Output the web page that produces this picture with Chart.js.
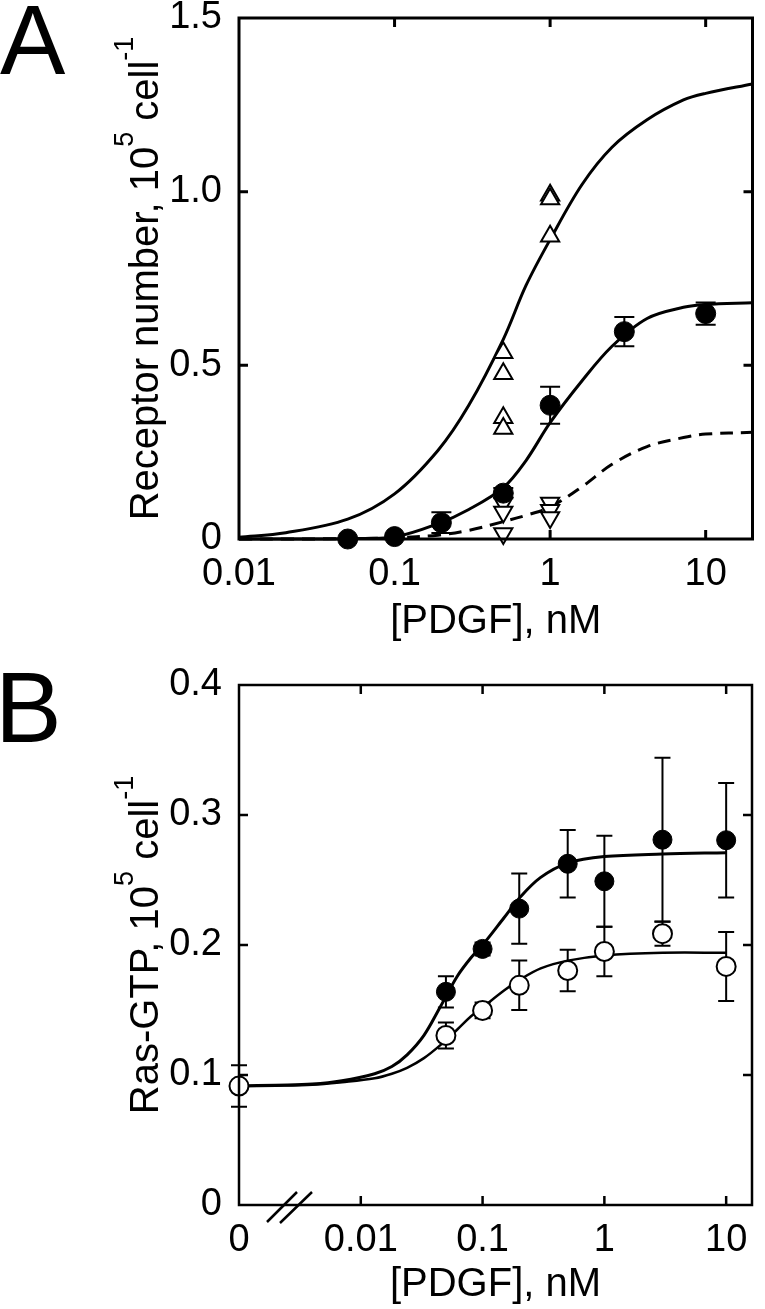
<!DOCTYPE html>
<html>
<head>
<meta charset="utf-8">
<script src="https://cdn.jsdelivr.net/npm/chart.js@4.4.0/dist/chart.umd.min.js"></script>
<style>
  body { margin: 0; background: #fff; width: 765px; height: 1309px; overflow: hidden; position: relative; }
  canvas { position: absolute; left: 0; }
  #chartA { top: 0; }
  #chartB { top: 640px; }
</style>
</head>
<body>
<canvas id="chartA" width="765" height="650"></canvas>
<canvas id="chartB" width="765" height="669"></canvas>
<script>
// ---- Panel A: receptor number vs [PDGF] ----
const aConc = [0.05, 0.1, 0.2, 0.5, 1, 3, 10];
const aFilled = [0, 0.007, 0.047, 0.132, 0.385, 0.597, 0.649];
const aFilledErr = [0, 0, 0.03, 0.015, 0.053, 0.042, 0.032];
const aUpConc = [0.5, 0.5, 0.5, 0.5, 1, 1, 1];
const aUpVals = [0.536, 0.476, 0.349, 0.318, 0.99, 0.979, 0.872];
const aDownConc = [0.5, 0.5, 0.5, 1, 1, 1];
const aDownVals = [0.104, 0.078, 0.016, 0.104, 0.083, 0.062];
const aFitConc = [0.01, 0.02, 0.05, 0.1, 0.19, 0.3, 0.5, 0.7, 1, 1.6, 2.5, 4.2, 7.2, 10, 20];
const aFitUpper = [0.005, 0.018, 0.057, 0.13, 0.255, 0.385, 0.575, 0.73, 0.862, 1.02, 1.128, 1.207, 1.264, 1.283, 1.31];
const aFitMiddle = [0, 0, 0.001, 0.006, 0.044, 0.085, 0.148, 0.226, 0.335, 0.455, 0.555, 0.635, 0.667, 0.675, 0.68];
const aFitDashed = [0, 0, 0.001, 0.004, 0.011, 0.025, 0.05, 0.068, 0.092, 0.15, 0.215, 0.266, 0.292, 0.302, 0.307];
const aXTicks = [0.01, 0.1, 1, 10];

// ---- Panel B: Ras-GTP vs [PDGF] ----
const bZero = 0.001; // where "0" sits on the broken log axis
const bFilledConc = [0.05, 0.1, 0.2, 0.5, 1, 3, 10];
const bFilled = [0.164, 0.197, 0.228, 0.2625, 0.249, 0.281, 0.2806];
const bFilledErr = [0.012, 0.005, 0.027, 0.026, 0.035, 0.063, 0.044];
const bOpenConc = [0, 0.05, 0.1, 0.2, 0.5, 1, 3, 10];
const bOpen = [0.0915, 0.1304, 0.1497, 0.169, 0.1804, 0.195, 0.2087, 0.1835];
const bOpenErr = [0.016, 0.01, 0.006, 0.019, 0.016, 0.019, 0.0092, 0.0265];
const bFitConc = [0, 0.002, 0.004, 0.007, 0.013, 0.018, 0.024, 0.033, 0.045, 0.062, 0.08, 0.1, 0.15, 0.2, 0.3, 0.5, 1, 3, 10];
const bFitFilled = [0.0915, 0.0922, 0.093, 0.0955, 0.101, 0.1065, 0.1155, 0.1305, 0.1525, 0.176, 0.19, 0.2, 0.221, 0.236, 0.252, 0.263, 0.268, 0.27, 0.271];
const bFitOpen = [0.0915, 0.0918, 0.0925, 0.0945, 0.0975, 0.101, 0.1055, 0.113, 0.123, 0.135, 0.145, 0.152, 0.165, 0.173, 0.182, 0.188, 0.192, 0.194, 0.194];
const bXTicks = [0.01, 0.1, 1, 10];

const FONT = '"Liberation Sans", Arial, Helvetica, sans-serif';
Chart.defaults.font.family = FONT;
Chart.defaults.color = '#000';

const pts = (xs, ys, zero) => xs.map((x, i) => ({ x: x === 0 ? zero : x, y: ys[i] }));

// frame, inward ticks, error bars, y title with superscripts, panel letter
const figurePlugin = {
  id: 'figure',
  beforeDatasetsDraw(chart, args, o) {
    const ctx = chart.ctx, xs = chart.scales.x, ys = chart.scales.y;
    ctx.save();
    ctx.strokeStyle = '#000';
    ctx.lineWidth = o.errWidth;
    chart.data.datasets.forEach(ds => {
      if (!ds.errs) return;
      ds.data.forEach((p, i) => {
        const e = ds.errs[i];
        if (!e) return;
        const px = xs.getPixelForValue(p.x);
        const top = ys.getPixelForValue(p.y + e);
        const bot = ys.getPixelForValue(p.y - e);
        ctx.beginPath();
        ctx.moveTo(px, top); ctx.lineTo(px, bot);
        ctx.moveTo(px - o.cap, top); ctx.lineTo(px + o.cap, top);
        ctx.moveTo(px - o.cap, bot); ctx.lineTo(px + o.cap, bot);
        ctx.stroke();
      });
    });
    ctx.restore();
  },
  afterDraw(chart, args, o) {
    const ctx = chart.ctx, a = chart.chartArea, xs = chart.scales.x, ys = chart.scales.y;
    ctx.save();
    ctx.strokeStyle = '#000';
    ctx.fillStyle = '#000';
    ctx.lineWidth = o.frameWidth;
    ctx.strokeRect(a.left, a.top, a.right - a.left, a.bottom - a.top);

    const tl = o.tickLen;
    ctx.beginPath();
    o.xTicks.forEach(v => {
      const px = xs.getPixelForValue(v);
      ctx.moveTo(px, a.bottom); ctx.lineTo(px, a.bottom - tl);
      ctx.moveTo(px, a.top); ctx.lineTo(px, a.top + tl);
    });
    o.yTicks.forEach(v => {
      const py = ys.getPixelForValue(v);
      ctx.moveTo(a.left, py); ctx.lineTo(a.left + tl, py);
      ctx.moveTo(a.right, py); ctx.lineTo(a.right - tl, py);
    });
    ctx.stroke();

    if (o.breakMarks) {
      ctx.lineWidth = 2.5;
      ctx.beginPath();
      o.breakMarks.forEach(m => { ctx.moveTo(m[0], m[1]); ctx.lineTo(m[2], m[3]); });
      ctx.stroke();
    }

    // y-axis title, rotated, with superscripts
    const big = '40px ' + FONT, small = '27px ' + FONT;
    let total = 0;
    o.yTitle.forEach(r => { ctx.font = r.sup ? small : big; r.w = ctx.measureText(r.t).width; total += r.w; });
    ctx.translate(o.yTitleX, (a.top + a.bottom) / 2);
    ctx.rotate(-Math.PI / 2);
    ctx.textBaseline = 'alphabetic';
    ctx.textAlign = 'left';
    let x = -total / 2;
    o.yTitle.forEach(r => {
      ctx.font = r.sup ? small : big;
      ctx.fillText(r.t, x, r.sup ? -25 : 0);
      x += r.w;
    });
    ctx.setTransform(1, 0, 0, 1, 0, 0);

    ctx.font = o.letterSize + 'px ' + FONT;
    ctx.fillText(o.letter, o.letterX, o.letterY);
    ctx.restore();
  }
};

function xScale(min, max, ticks, height, titlePad) {
  return {
    type: 'logarithmic', min: min, max: max,
    grid: { display: false }, border: { display: false },
    afterBuildTicks: s => { s.ticks = ticks.map(v => ({ value: v })); },
    afterFit: s => { s.height = height; s.paddingLeft = 0; s.paddingRight = 0; },
    ticks: {
      autoSkip: false, maxRotation: 0, padding: 5,
      font: { size: 38 },
      callback: v => (v === bZero ? '0' : String(v))
    },
    title: { display: true, text: '[PDGF], nM', font: { size: 40 }, padding: { top: 0, bottom: titlePad } }
  };
}

function yScale(max, step) {
  return {
    min: 0, max: max,
    grid: { display: false }, border: { display: false },
    afterFit: s => { s.width = 239; s.paddingTop = 0; s.paddingBottom = 0; },
    ticks: {
      stepSize: step, padding: 9, font: { size: 38 },
      callback: v => (v === 0 ? '0' : v.toFixed(1))
    }
  };
}

const baseOpts = {
  responsive: false, animation: false,
  plugins: { legend: { display: false }, tooltip: { enabled: false } }
};

const curve = (data, width, dash) => ({
  data: data, showLine: true, pointRadius: 0, borderColor: '#000', borderWidth: width,
  borderDash: dash || [], tension: 0.35, clip: false
});

// ---- Chart A ----
new Chart(document.getElementById('chartA'), {
  type: 'scatter',
  data: {
    datasets: [
      { data: pts(aConc, aFilled), errs: aFilledErr, pointRadius: 10, pointBackgroundColor: '#000', pointBorderColor: '#000', clip: false },
      { data: pts(aUpConc, aUpVals), pointStyle: 'triangle', pointRadius: 10.5, pointBackgroundColor: '#fff', pointBorderColor: '#000', pointBorderWidth: 2, clip: false },
      { data: pts(aDownConc, aDownVals), pointStyle: 'triangle', rotation: 180, pointRadius: 10.5, pointBackgroundColor: '#fff', pointBorderColor: '#000', pointBorderWidth: 2, clip: false },
      curve(pts(aFitConc, aFitUpper), 3),
      curve(pts(aFitConc, aFitMiddle), 3),
      curve(pts(aFitConc, aFitDashed), 3, [13, 8])
    ]
  },
  options: {
    ...baseOpts,
    layout: { padding: { top: 18, right: 7, left: 0, bottom: 0 } },
    scales: { x: xScale(0.01, 20, aXTicks, 111, 4), y: yScale(1.5, 0.5) },
    plugins: {
      ...baseOpts.plugins,
      figure: {
        errWidth: 2, cap: 10, frameWidth: 3, tickLen: 9,
        xTicks: [0.1, 1, 10], yTicks: [0.5, 1.0],
        yTitleX: 158,
        yTitle: [{ t: 'Receptor number, 10' }, { t: '5', sup: true }, { t: ' cell' }, { t: '-1', sup: true }],
        letter: 'A', letterSize: 98, letterX: 0, letterY: 74
      }
    }
  },
  plugins: [figurePlugin]
});

// ---- Chart B ----
new Chart(document.getElementById('chartB'), {
  type: 'scatter',
  data: {
    datasets: [
      { data: pts(bOpenConc, bOpen, bZero), errs: bOpenErr, pointRadius: 9.5, pointBackgroundColor: '#fff', pointBorderColor: '#000', pointBorderWidth: 2, clip: false },
      { data: pts(bFilledConc, bFilled, bZero), errs: bFilledErr, pointRadius: 9.5, pointBackgroundColor: '#000', pointBorderColor: '#000', clip: false },
      curve(pts(bFitConc, bFitFilled, bZero), 3),
      curve(pts(bFitConc, bFitOpen, bZero), 2.5)
    ]
  },
  options: {
    ...baseOpts,
    layout: { padding: { top: 45, right: 13, left: 0, bottom: 0 } },
    scales: { x: xScale(bZero, 16.3, [bZero].concat(bXTicks), 104, 0), y: yScale(0.4, 0.1) },
    plugins: {
      ...baseOpts.plugins,
      figure: {
        errWidth: 2, cap: 8, frameWidth: 2.5, tickLen: 9,
        xTicks: bXTicks, yTicks: [0.1, 0.2, 0.3],
        breakMarks: [[267, 582, 297, 552], [280, 583, 312, 552]],
        yTitleX: 158,
        yTitle: [{ t: 'Ras-GTP, 10' }, { t: '5', sup: true }, { t: ' cell' }, { t: '-1', sup: true }],
        letter: 'B', letterSize: 100, letterX: -5, letterY: 102
      }
    }
  },
  plugins: [figurePlugin]
});
</script>
</body>
</html>
